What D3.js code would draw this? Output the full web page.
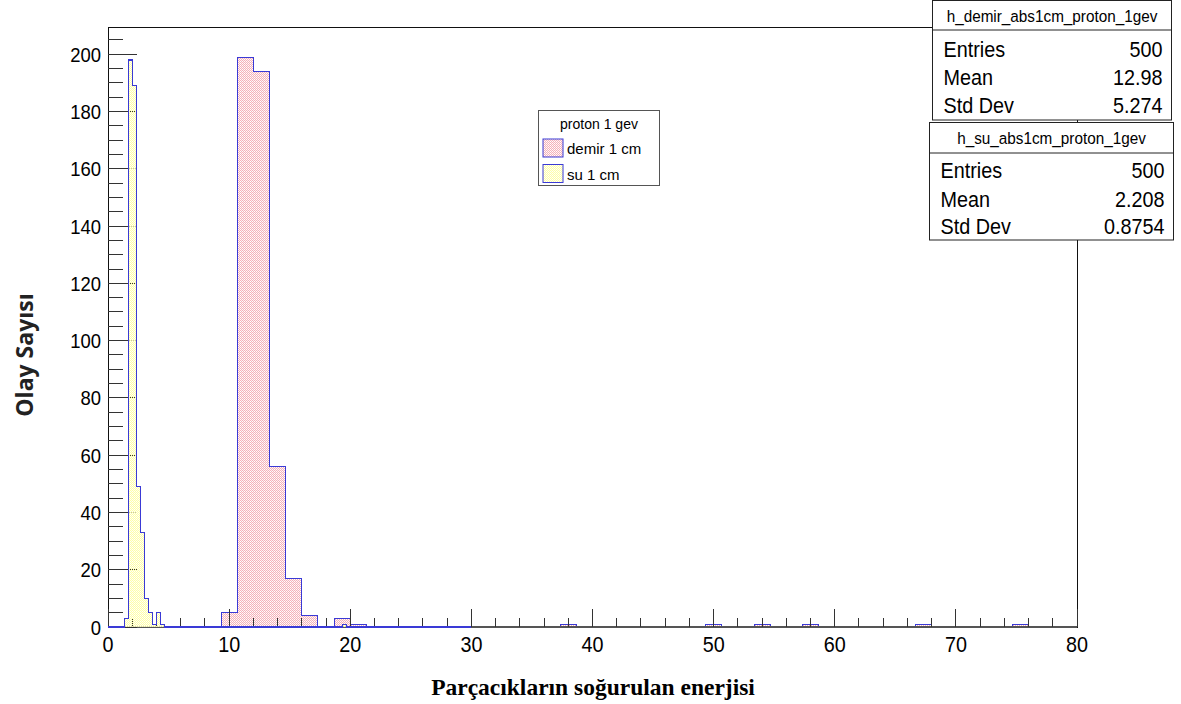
<!DOCTYPE html>
<html>
<head>
<meta charset="utf-8">
<script src="https://cdn.jsdelivr.net/npm/d3@7"></script>
<style>
  html, body { margin: 0; padding: 0; background: #fff; }
  svg { display: block; }
</style>
</head>
<body>
<svg id="chart" width="1181" height="704"></svg>
<script>
// ---- Data -------------------------------------------------------------
// Iron (demir) 1 cm: 60 bins on [0, 80]; non-empty bins given as [binIndex, count]
const demirRange = [0, 80];
const demirNBins = 60;
const demirBins = [
  [7, 5], [8, 199], [9, 194], [10, 56], [11, 17], [12, 4],
  [14, 3], [15, 1], [28, 1], [37, 1], [40, 1], [43, 1], [50, 1], [56, 1]
];
// Water (su) 1 cm: 90 bins on [0, 30]
const suRange = [0, 30];
const suNBins = 90;
const suBins = [
  [4, 3], [5, 198], [6, 189], [7, 49], [8, 33], [9, 10],
  [10, 5], [11, 1], [12, 5], [13, 1], [58, 1]
];

const xTicks = [0, 10, 20, 30, 40, 50, 60, 70, 80];
const yTicks = [0, 20, 40, 60, 80, 100, 120, 140, 160, 180, 200];

const legendTitle = "proton 1 gev";
const legendLabels = ["demir 1 cm", "su 1 cm"];

const statNames = ["h_demir_abs1cm_proton_1gev", "h_su_abs1cm_proton_1gev"];
const statRows = ["Entries", "Mean", "Std Dev"];
const statValues = [["500", "12.98", "5.274"], ["500", "2.208", "0.8754"]];

const xTitle = "Parçacıkların soğurulan enerjisi";
const yTitle = "Olay Sayısı";

// ---- Layout -----------------------------------------------------------
const svg = d3.select("#chart");
const frame = { left: 108, right: 1077, top: 27, bottom: 627 };
const x = d3.scaleLinear().domain([0, 80]).range([frame.left, frame.right]);
const y = d3.scaleLinear().domain([0, 209.5]).range([frame.bottom, frame.top]);

const lineBlue = "#3a3ad6";
const sans = "'Liberation Sans', Arial, sans-serif";

// Dotted fill patterns with transparent gaps, so what lies beneath shows through
const defs = svg.append("defs");
function dotPattern(id, color, bg) {
  const p = defs.append("pattern").attr("id", id)
    .attr("patternUnits", "userSpaceOnUse").attr("width", 2).attr("height", 2);
  p.append("rect").attr("x", 0).attr("y", 0).attr("width", 1).attr("height", 1).attr("fill", color);
  p.append("rect").attr("x", 1).attr("y", 1).attr("width", 1).attr("height", 1).attr("fill", color);
  p.append("rect").attr("x", 1).attr("y", 0).attr("width", 1).attr("height", 1).attr("fill", bg);
}
dotPattern("fillDemir", "#f4b2ba", "rgba(255,228,232,0.7)");
dotPattern("fillSu", "#ffffa8", "rgba(255,255,225,0.7)");

// Expand sparse bins into a full step outline over the histogram range
function histPath(range, nBins, bins) {
  const w = (range[1] - range[0]) / nBins;
  const counts = new Array(nBins).fill(0);
  bins.forEach(([i, c]) => { counts[i] = c; });
  const pts = [[x(range[0]), y(0)]];
  counts.forEach((c, i) => {
    const x0 = x(range[0] + i * w), x1 = x(range[0] + (i + 1) * w);
    pts.push([x0, y(c)], [x1, y(c)]);
  });
  pts.push([x(range[1]), y(0)]);
  return d3.line()(pts);
}

// Text helper with optional horizontal condensing
function label(g, tx, ty, text, size, anchor, sx = 1, weight = "normal", family = sans) {
  return g.append("text")
    .attr("transform", `translate(${tx},${ty}) scale(${sx},1)`)
    .attr("text-anchor", anchor)
    .attr("font-family", family)
    .attr("font-size", size)
    .attr("font-weight", weight)
    .attr("fill", "#000")
    .text(text);
}

// ---- Iron histogram (drawn first, axes over it) ------------------------
const demirPath = histPath(demirRange, demirNBins, demirBins);
svg.append("path").attr("d", demirPath).attr("fill", "url(#fillDemir)").attr("stroke", "none");
svg.append("path").attr("d", demirPath).attr("fill", "none")
  .attr("stroke", lineBlue).attr("stroke-width", 1).attr("shape-rendering", "crispEdges");

// ---- Frame and axes ---------------------------------------------------
svg.append("rect")
  .attr("x", frame.left).attr("y", frame.top)
  .attr("width", frame.right - frame.left).attr("height", frame.bottom - frame.top)
  .attr("fill", "none").attr("stroke", "#111").attr("stroke-width", 1)
  .attr("shape-rendering", "crispEdges");
svg.append("line").attr("x1", frame.left).attr("x2", frame.right)
  .attr("y1", frame.bottom).attr("y2", frame.bottom)
  .attr("stroke", "#555").attr("stroke-width", 2);

const axisG = svg.append("g").attr("stroke", "#333").attr("stroke-width", 1)
  .attr("shape-rendering", "crispEdges");
// x ticks: major every 10, minor every 2, pointing up into the frame
d3.range(0, 80.001, 2).forEach(v => {
  const major = Math.abs(v % 10) < 1e-9;
  axisG.append("line").attr("x1", x(v)).attr("x2", x(v))
    .attr("y1", frame.bottom).attr("y2", frame.bottom - (major ? 18 : 9));
});
// y ticks: major every 20, minor every 5, pointing right into the frame
d3.range(0, 209, 5).forEach(v => {
  const major = v % 20 === 0;
  axisG.append("line").attr("x1", frame.left).attr("x2", frame.left + (major ? 29 : 14.5))
    .attr("y1", y(v)).attr("y2", y(v));
});

const tickG = svg.append("g");
xTicks.forEach(v => label(tickG, x(v), 652, String(v), 22, "middle", 0.9));
yTicks.forEach(v => label(tickG, 101, y(v) + 7.5, String(v), 21, "end", 0.88));

// ---- Water histogram (drawn on top) ------------------------------------
const suPath = histPath(suRange, suNBins, suBins);
svg.append("path").attr("d", suPath).attr("fill", "url(#fillSu)").attr("stroke", "none");
svg.append("path").attr("d", suPath).attr("fill", "none")
  .attr("stroke", lineBlue).attr("stroke-width", 1.2).attr("shape-rendering", "crispEdges");

// ---- Axis titles ------------------------------------------------------
label(svg, 593, 695, xTitle, 23.5, "middle", 1, "bold", "'Liberation Serif', 'Times New Roman', serif");
svg.append("text")
  .attr("transform", `translate(33,355) rotate(-90)`)
  .attr("text-anchor", "middle")
  .attr("font-family", "'Open Sans', 'DejaVu Sans', sans-serif")
  .attr("font-weight", "bold").attr("font-size", 23)
  .attr("fill", "#222")
  .text(yTitle);

// ---- Legend -----------------------------------------------------------
const leg = svg.append("g");
leg.append("rect").attr("x", 538.5).attr("y", 110.5).attr("width", 121).attr("height", 75)
  .attr("fill", "#fff").attr("stroke", "#555").attr("stroke-width", 1);
label(leg, 599, 129, legendTitle, 14, "middle");
["url(#fillDemir)", "url(#fillSu)"].forEach((f, i) => {
  const yy = 139 + i * 25.5;
  leg.append("rect").attr("x", 543).attr("y", yy).attr("width", 20).attr("height", 18)
    .attr("fill", f).attr("stroke", lineBlue).attr("stroke-width", 1);
  label(leg, 567, yy + 15, legendLabels[i], 15, "start");
});

// ---- Statistics boxes -------------------------------------------------
const boxes = [
  { x: 932.5, y: 0.5, w: 239, h: 119.5, head: 29.5, rows: [57, 85, 112.5] },
  { x: 929.5, y: 122.5, w: 244, h: 117.5, head: 30.5, rows: [178, 206.5, 234] }
];
boxes.forEach((b, k) => {
  const g = svg.append("g");
  g.append("rect").attr("x", b.x).attr("y", b.y).attr("width", b.w).attr("height", b.h)
    .attr("fill", "#fff").attr("stroke", "#222").attr("stroke-width", 1);
  g.append("line").attr("x1", b.x).attr("x2", b.x + b.w)
    .attr("y1", b.y + b.head).attr("y2", b.y + b.head)
    .attr("stroke", "#222").attr("stroke-width", 1);
  label(g, b.x + b.w / 2, b.y + 21, statNames[k], 17, "middle", 0.9);
  statRows.forEach((r, j) => {
    label(g, b.x + 11, b.rows[j], r, 22, "start", 0.9);
    label(g, b.x + b.w - 9, b.rows[j], statValues[k][j], 22, "end", 0.9);
  });
});
</script>
</body>
</html>
